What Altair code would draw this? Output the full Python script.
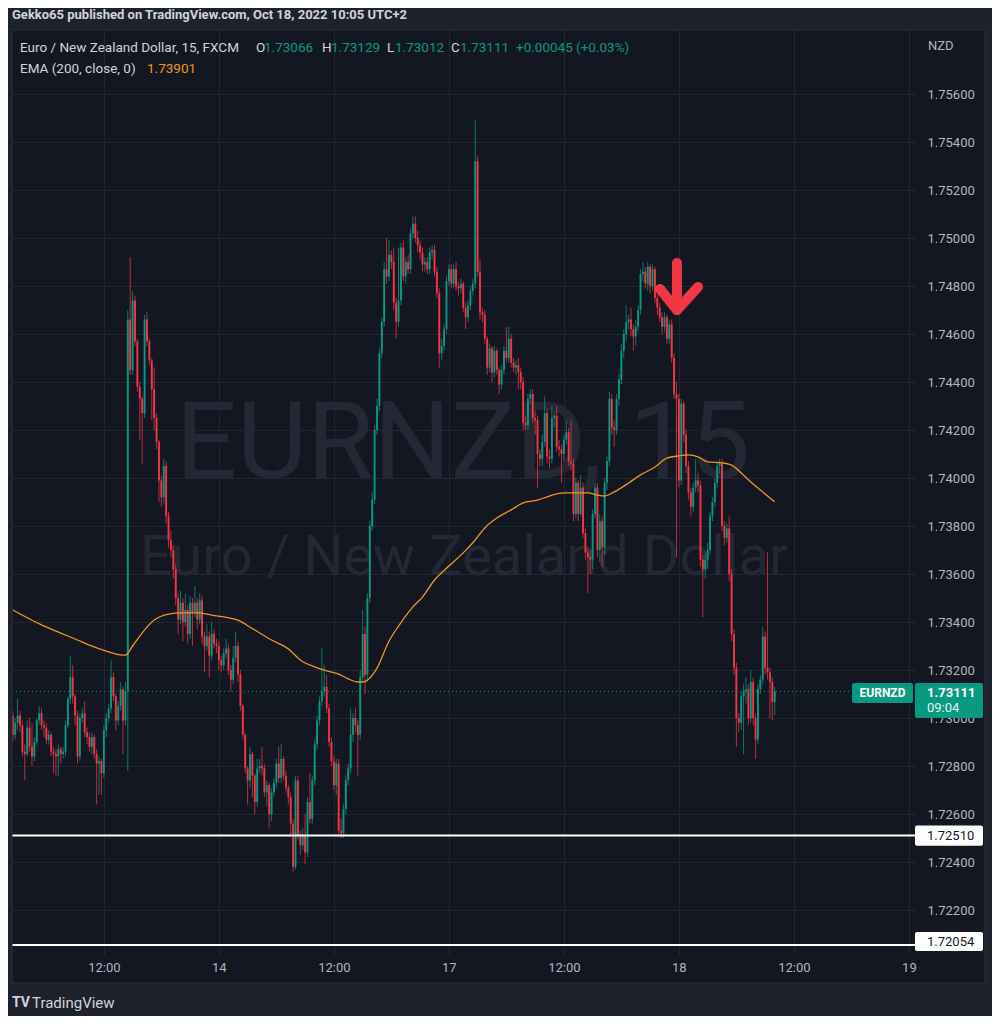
import altair as alt
import pandas as pd

# ---------------- values ----------------
first_open = 1.7301

close = [
    1.7293, 1.7298, 1.7301, 1.7297, 1.7286, 1.7285, 1.7296, 1.7288, 1.7284, 1.7290,
    1.7299, 1.7302, 1.7297, 1.7296, 1.7291, 1.7293, 1.7286, 1.7285, 1.7284, 1.7287,
    1.7285, 1.7286, 1.7297, 1.7308, 1.7317, 1.7309, 1.7301, 1.7284, 1.7300, 1.7302,
    1.7294, 1.7292, 1.7288, 1.7292, 1.7285, 1.7281, 1.7282, 1.7277, 1.7295, 1.7300,
    1.7304, 1.7317, 1.7309, 1.7299, 1.7305, 1.7312, 1.7299, 1.7311, 1.7466, 1.7445,
    1.7474, 1.7457, 1.7438, 1.7433, 1.7427, 1.7466, 1.7457, 1.7449, 1.7437, 1.7425,
    1.7415, 1.7399, 1.7392, 1.7405, 1.7384, 1.7374, 1.7370, 1.7362, 1.7350, 1.7341,
    1.7348, 1.7340, 1.7345, 1.7335, 1.7348, 1.7344, 1.7348, 1.7341, 1.7349, 1.7334,
    1.7330, 1.7334, 1.7326, 1.7335, 1.7331, 1.7330, 1.7324, 1.7322, 1.7327, 1.7329,
    1.7320, 1.7316, 1.7325, 1.7330, 1.7318, 1.7305, 1.7293, 1.7279, 1.7274, 1.7285,
    1.7276, 1.7265, 1.7279, 1.7280, 1.7279, 1.7269, 1.7272, 1.7260, 1.7269, 1.7273,
    1.7281, 1.7275, 1.7283, 1.7276, 1.7271, 1.7267, 1.7256, 1.7238, 1.7274, 1.7251,
    1.7247, 1.7251, 1.7244, 1.7265, 1.7258, 1.7274, 1.7289, 1.7299, 1.7307, 1.7311,
    1.7313, 1.7304, 1.7290, 1.7282, 1.7272, 1.7281, 1.7253, 1.7252, 1.7262, 1.7274,
    1.7279, 1.7293, 1.7300, 1.7297, 1.7293, 1.7317, 1.7335, 1.7318, 1.7350, 1.7380,
    1.7391, 1.7420, 1.7430, 1.7452, 1.7465, 1.7487, 1.7484, 1.7493, 1.7490, 1.7473,
    1.7465, 1.7474, 1.7496, 1.7484, 1.7490, 1.7487, 1.7502, 1.7506, 1.7500, 1.7497,
    1.7494, 1.7489, 1.7490, 1.7487, 1.7494, 1.7495, 1.7486, 1.7477, 1.7452, 1.7455,
    1.7462, 1.7482, 1.7487, 1.7481, 1.7487, 1.7480, 1.7479, 1.7481, 1.7471, 1.7467,
    1.7472, 1.7478, 1.7481, 1.7532, 1.7486, 1.7469, 1.7468, 1.7458, 1.7446, 1.7454,
    1.7444, 1.7453, 1.7445, 1.7439, 1.7445, 1.7453, 1.7450, 1.7458, 1.7448, 1.7446,
    1.7447, 1.7444, 1.7440, 1.7423, 1.7422, 1.7433, 1.7435, 1.7425, 1.7424, 1.7410,
    1.7408, 1.7415, 1.7427, 1.7409, 1.7408, 1.7425, 1.7426, 1.7413, 1.7412, 1.7410,
    1.7416, 1.7419, 1.7407, 1.7406, 1.7385, 1.7398, 1.7385, 1.7396, 1.7377, 1.7369,
    1.7367, 1.7366, 1.7385, 1.7396, 1.7370, 1.7382, 1.7371, 1.7398, 1.7407, 1.7433,
    1.7421, 1.7420, 1.7433, 1.7441, 1.7453, 1.7460, 1.7465, 1.7466, 1.7462, 1.7459,
    1.7463, 1.7470, 1.7485, 1.7486, 1.7481, 1.7488, 1.7480, 1.7487, 1.7475, 1.7471,
    1.7467, 1.7463, 1.7467, 1.7458, 1.7464, 1.7450, 1.7435, 1.7433, 1.7399, 1.7431,
    1.7418, 1.7405, 1.7394, 1.7388, 1.7396, 1.7399, 1.7397, 1.7366, 1.7362, 1.7366,
    1.7370, 1.7384, 1.7390, 1.7398, 1.7405, 1.7406, 1.7380, 1.7375, 1.7379, 1.7360,
    1.7335, 1.7321, 1.7300, 1.7298, 1.7309, 1.7311, 1.7312, 1.7300, 1.7315, 1.7300,
    1.7291, 1.7312, 1.7316, 1.7334, 1.7321, 1.7319, 1.7315, 1.73066, 1.73111,
]

high = [
    1.7303, 1.7300, 1.7308, 1.7303, 1.7299, 1.7289, 1.7299, 1.7300, 1.7298, 1.7292,
    1.7300, 1.7305, 1.7304, 1.7299, 1.7298, 1.7295, 1.7294, 1.7288, 1.7287, 1.7289,
    1.7288, 1.7288, 1.7299, 1.7309, 1.7326, 1.7322, 1.7310, 1.7303, 1.7302, 1.7304,
    1.7307, 1.7296, 1.7294, 1.7294, 1.7293, 1.7287, 1.7284, 1.7283, 1.7297, 1.7302,
    1.7306, 1.7324, 1.7319, 1.7310, 1.7307, 1.7315, 1.7313, 1.7315, 1.7470, 1.7492,
    1.7478, 1.7476, 1.7458, 1.7440, 1.7434, 1.7468, 1.7469, 1.7458, 1.7450, 1.7446,
    1.7427, 1.7416, 1.7401, 1.7408, 1.7407, 1.7386, 1.7378, 1.7372, 1.7364, 1.7352,
    1.7353, 1.7350, 1.7352, 1.7347, 1.7351, 1.7350, 1.7355, 1.7350, 1.7352, 1.7351,
    1.7336, 1.7339, 1.7336, 1.7340, 1.7337, 1.7333, 1.7332, 1.7326, 1.7329, 1.7333,
    1.7331, 1.7322, 1.7330, 1.7336, 1.7332, 1.7320, 1.7306, 1.7294, 1.7280, 1.7288,
    1.7286, 1.7277, 1.7283, 1.7283, 1.7288, 1.7281, 1.7274, 1.7273, 1.7271, 1.7275,
    1.7283, 1.7288, 1.7289, 1.7284, 1.7278, 1.7272, 1.7269, 1.7258, 1.7276, 1.7276,
    1.7253, 1.7254, 1.7260, 1.7267, 1.7277, 1.7276, 1.7291, 1.7301, 1.7309, 1.7329,
    1.7322, 1.7318, 1.7306, 1.7292, 1.7284, 1.7283, 1.7283, 1.7258, 1.7264, 1.7276,
    1.7281, 1.7304, 1.7302, 1.7304, 1.7299, 1.7320, 1.7345, 1.7338, 1.7352, 1.7382,
    1.7394, 1.7422, 1.7433, 1.7454, 1.7467, 1.7490, 1.7500, 1.7499, 1.7495, 1.7496,
    1.7475, 1.7496, 1.7498, 1.7499, 1.7492, 1.7493, 1.7504, 1.7509, 1.7509, 1.7503,
    1.7499, 1.7496, 1.7492, 1.7492, 1.7496, 1.7497, 1.7497, 1.7488, 1.7479, 1.7458,
    1.7464, 1.7484, 1.7489, 1.7489, 1.7489, 1.7490, 1.7482, 1.7483, 1.7482, 1.7473,
    1.7474, 1.7480, 1.7483, 1.7549, 1.7534, 1.7491, 1.7471, 1.7470, 1.7459, 1.7456,
    1.7455, 1.7455, 1.7454, 1.7446, 1.7447, 1.7455, 1.7463, 1.7463, 1.7460, 1.7450,
    1.7449, 1.7450, 1.7446, 1.7442, 1.7426, 1.7435, 1.7437, 1.7437, 1.7428, 1.7426,
    1.7412, 1.7418, 1.7434, 1.7429, 1.7412, 1.7430, 1.7428, 1.7430, 1.7416, 1.7414,
    1.7418, 1.7424, 1.7421, 1.7424, 1.7408, 1.7400, 1.7399, 1.7401, 1.7398, 1.7379,
    1.7371, 1.7370, 1.7387, 1.7398, 1.7398, 1.7385, 1.7384, 1.7400, 1.7409, 1.7436,
    1.7435, 1.7424, 1.7435, 1.7443, 1.7456, 1.7462, 1.7472, 1.7468, 1.7471, 1.7464,
    1.7466, 1.7472, 1.7487, 1.7490, 1.7488, 1.7490, 1.7489, 1.7489, 1.7488, 1.7477,
    1.7473, 1.7469, 1.7469, 1.7468, 1.7466, 1.7466, 1.7452, 1.7440, 1.7435, 1.7433,
    1.7432, 1.7420, 1.7407, 1.7396, 1.7398, 1.7408, 1.7402, 1.7399, 1.7368, 1.7369,
    1.7373, 1.7386, 1.7392, 1.7400, 1.7407, 1.7408, 1.7408, 1.7382, 1.7381, 1.7384,
    1.7362, 1.7337, 1.7323, 1.7302, 1.7311, 1.7314, 1.7317, 1.7314, 1.7320, 1.7317,
    1.7302, 1.7314, 1.7318, 1.7338, 1.7336, 1.7369, 1.7321, 1.7317, 1.73129,
]

low = [
    1.7290, 1.7291, 1.7295, 1.7294, 1.7284, 1.7274, 1.7284, 1.7286, 1.7280, 1.7282,
    1.7289, 1.7297, 1.7295, 1.7292, 1.7289, 1.7289, 1.7284, 1.7277, 1.7276, 1.7276,
    1.7281, 1.7283, 1.7284, 1.7296, 1.7306, 1.7306, 1.7297, 1.7281, 1.7282, 1.7298,
    1.7292, 1.7289, 1.7286, 1.7285, 1.7283, 1.7264, 1.7268, 1.7268, 1.7275, 1.7292,
    1.7298, 1.7302, 1.7307, 1.7295, 1.7297, 1.7303, 1.7285, 1.7297, 1.7278, 1.7443,
    1.7443, 1.7455, 1.7436, 1.7416, 1.7406, 1.7425, 1.7455, 1.7447, 1.7424, 1.7420,
    1.7412, 1.7390, 1.7388, 1.7389, 1.7381, 1.7371, 1.7367, 1.7358, 1.7347, 1.7335,
    1.7339, 1.7332, 1.7338, 1.7331, 1.7333, 1.7330, 1.7342, 1.7337, 1.7339, 1.7331,
    1.7319, 1.7328, 1.7317, 1.7324, 1.7329, 1.7327, 1.7320, 1.7319, 1.7320, 1.7325,
    1.7318, 1.7311, 1.7314, 1.7323, 1.7315, 1.7303, 1.7291, 1.7277, 1.7264, 1.7271,
    1.7267, 1.7260, 1.7263, 1.7277, 1.7276, 1.7267, 1.7263, 1.7254, 1.7257, 1.7267,
    1.7271, 1.7273, 1.7273, 1.7274, 1.7269, 1.7264, 1.7251, 1.7236, 1.7237, 1.7249,
    1.7243, 1.7245, 1.7239, 1.7242, 1.7256, 1.7256, 1.7272, 1.7287, 1.7297, 1.7305,
    1.7309, 1.7302, 1.7288, 1.7280, 1.7270, 1.7268, 1.7251, 1.7250, 1.7250, 1.7260,
    1.7272, 1.7277, 1.7290, 1.7294, 1.7276, 1.7291, 1.7315, 1.7310, 1.7315, 1.7348,
    1.7378, 1.7389, 1.7418, 1.7428, 1.7450, 1.7463, 1.7481, 1.7482, 1.7487, 1.7470,
    1.7458, 1.7463, 1.7472, 1.7482, 1.7481, 1.7485, 1.7485, 1.7500, 1.7498, 1.7494,
    1.7491, 1.7486, 1.7486, 1.7485, 1.7485, 1.7491, 1.7484, 1.7475, 1.7446, 1.7449,
    1.7453, 1.7460, 1.7480, 1.7479, 1.7479, 1.7478, 1.7476, 1.7477, 1.7469, 1.7462,
    1.7465, 1.7470, 1.7476, 1.7479, 1.7484, 1.7466, 1.7465, 1.7456, 1.7443, 1.7444,
    1.7440, 1.7442, 1.7443, 1.7435, 1.7437, 1.7443, 1.7448, 1.7448, 1.7446, 1.7444,
    1.7443, 1.7437, 1.7437, 1.7420, 1.7420, 1.7420, 1.7431, 1.7423, 1.7418, 1.7396,
    1.7405, 1.7405, 1.7413, 1.7406, 1.7404, 1.7406, 1.7421, 1.7411, 1.7409, 1.7398,
    1.7407, 1.7414, 1.7405, 1.7403, 1.7382, 1.7383, 1.7382, 1.7384, 1.7375, 1.7366,
    1.7352, 1.7360, 1.7362, 1.7383, 1.7367, 1.7365, 1.7363, 1.7368, 1.7395, 1.7405,
    1.7418, 1.7413, 1.7418, 1.7430, 1.7439, 1.7450, 1.7457, 1.7462, 1.7459, 1.7453,
    1.7455, 1.7461, 1.7468, 1.7482, 1.7479, 1.7478, 1.7477, 1.7478, 1.7473, 1.7468,
    1.7465, 1.7460, 1.7461, 1.7456, 1.7456, 1.7448, 1.7433, 1.7367, 1.7396, 1.7397,
    1.7415, 1.7402, 1.7391, 1.7384, 1.7386, 1.7394, 1.7394, 1.7363, 1.7342, 1.7358,
    1.7362, 1.7368, 1.7382, 1.7388, 1.7396, 1.7402, 1.7378, 1.7372, 1.7373, 1.7357,
    1.7332, 1.7318, 1.7288, 1.7294, 1.7295, 1.7285, 1.7306, 1.7297, 1.7298, 1.7297,
    1.7283, 1.7289, 1.7310, 1.7314, 1.7318, 1.7316, 1.7300, 1.7299, 1.73012,
]

# EMA(200) line (bar index, price)
ema_bar = [0, 12, 20, 27, 32, 39, 45, 47, 50, 55, 59, 65, 70, 77, 83, 88, 94, 99,
           108, 115, 120, 126, 131, 136, 140, 144, 146, 149, 152, 157, 161, 167,
           171, 176, 182, 188, 192, 197, 202, 208, 213, 219, 224, 230, 236, 240,
           244, 247, 251, 257, 262, 268, 273, 278, 282, 286, 290, 296, 300, 304,
           308, 312, 318]
ema_val = [1.73450, 1.73388, 1.73354, 1.73325, 1.73304, 1.73279, 1.73263, 1.73262,
           1.73300, 1.73367, 1.73408, 1.73433, 1.73438, 1.73438, 1.73429, 1.73421,
           1.73408, 1.73379, 1.73325, 1.73288, 1.73242, 1.73213, 1.73196, 1.73183,
           1.73163, 1.73150, 1.73150, 1.73167, 1.73208, 1.73320, 1.73383, 1.73463,
           1.73504, 1.73575, 1.73633, 1.73688, 1.73730, 1.73792, 1.73833, 1.73867,
           1.73896, 1.73908, 1.73925, 1.73938, 1.73938, 1.73938, 1.73929, 1.73925,
           1.73942, 1.73979, 1.74013, 1.74046, 1.74083, 1.74092, 1.74096, 1.74088,
           1.74067, 1.74063, 1.74054, 1.74021, 1.73983, 1.73950, 1.73901]

# horizontal levels drawn on the chart and last price
level_prices = [1.72510, 1.72054]
level_labels = ["1.72510", "1.72054"]
last_price = 1.73111

# axis ticks
time_tick_bars = [38, 86, 134, 182, 230, 278, 326, 374]
time_tick_labels = ["12:00", "14", "12:00", "17", "12:00", "18", "12:00", "19"]
price_ticks = [1.722, 1.724, 1.726, 1.728, 1.730, 1.732, 1.734, 1.736, 1.738,
               1.740, 1.742, 1.744, 1.746, 1.748, 1.750, 1.752, 1.754, 1.756]

# red arrow annotation (bar index, price)
arrow_part = ["head", "head", "head", "shaft", "shaft"]
arrow_seq = [0, 1, 2, 0, 1]
arrow_bar = [270.1, 277.2, 286.0, 277.2, 277.2]
arrow_price = [1.74788, 1.74700, 1.74796, 1.74896, 1.74700]

# ---------------- styling ----------------
BG = "#131722"
FRAME = "#1e222d"
GRID = "#222632"
TXT = "#d1d4dc"
AXT = "#b2b5be"
UP = "#089981"
DN = "#f23645"
EMA_C = "#f0961c"
WM = "#242834"
FONT = "Roboto"
W, H = 903, 925
LEG = 13.5

opens = [first_open] + close[:-1]
candles = pd.DataFrame({"bar": list(range(len(close))), "open": opens,
                        "close": close, "high": high, "low": low})
ema_df = pd.DataFrame({"bar": ema_bar, "ema": ema_val})
arrow_df = pd.DataFrame({"part": arrow_part, "seq": arrow_seq,
                         "bar": arrow_bar, "price": arrow_price})
one = pd.DataFrame({"k": [0]})

label_expr = " : ".join(
    f"datum.value == {b} ? '{l}'" for b, l in zip(time_tick_bars, time_tick_labels)
) + " : ''"

xscale = alt.Scale(domain=[-0.334, 376.55], nice=False, zero=False)
yscale = alt.Scale(domain=[1.720125, 1.758667], nice=False, zero=False)
xaxis = alt.Axis(values=time_tick_bars, labelExpr=label_expr, grid=True,
                 gridColor=GRID, gridWidth=1, domain=False, ticks=False,
                 tickSize=0, labelColor=AXT, labelFont=FONT, labelFontSize=13,
                 labelPadding=6, title=None, labelAngle=0, labelFlush=False,
                 labelOverlap=False)
yaxis = alt.Axis(orient="right", values=price_ticks, format=".5f", grid=True,
                 gridColor=GRID, gridWidth=1, domain=False, ticks=False,
                 tickSize=0, labelColor=AXT, labelFont=FONT, labelFontSize=13,
                 labelPadding=12, title=None, labelFlush=False,
                 labelOverlap=False, labelAlign="left")


def X(field):
    return alt.X(field, type="quantitative", scale=xscale, axis=xaxis)


def Y(field):
    return alt.Y(field, type="quantitative", scale=yscale, axis=yaxis)


def txt(s, x, y, color, size=13, weight="normal", align="left",
        baseline="middle"):
    return alt.Chart(one).mark_text(
        text=s, align=align, baseline=baseline, font=FONT, fontSize=size,
        fontWeight=weight, color=color
    ).encode(x=alt.value(x), y=y if not isinstance(y, (int, float)) else alt.value(y))


def box(x1, x2, p_top, p_bot, color):
    return alt.Chart(one).mark_rect(color=color, cornerRadius=2).encode(
        x=alt.value(x1), x2=alt.value(x2),
        y=alt.datum(p_top), y2=alt.datum(p_bot))


cond_color = alt.condition("datum.close >= datum.open", alt.value(UP), alt.value(DN))

layers = []

# watermark
layers.append(txt("EURNZD, 15", 451, 448, WM, size=108, align="center",
                  baseline="alphabetic"))
layers.append(txt("Euro / New Zealand Dollar", 452, 545, WM, size=56,
                  align="center", baseline="alphabetic"))

# wicks
layers.append(alt.Chart(candles).mark_rule(strokeWidth=1, opacity=0.75).encode(
    x=X("bar"), y=Y("low"), y2="high", color=cond_color))
# bodies
layers.append(alt.Chart(candles).mark_rule(strokeWidth=1.9).encode(
    x=X("bar"), y=Y("open"), y2="close", color=cond_color))

# EMA
layers.append(alt.Chart(ema_df).mark_line(color=EMA_C, strokeWidth=1.3,
                                          interpolate="monotone").encode(
    x=X("bar"), y=Y("ema")))

# last price dotted line
layers.append(alt.Chart(one).mark_rule(color=UP, strokeWidth=1,
                                       strokeDash=[1, 3]).encode(
    x=alt.value(0), x2=alt.value(840), y=alt.datum(last_price)))

# white horizontal levels
for p in level_prices:
    layers.append(alt.Chart(one).mark_rule(color="#ffffff", strokeWidth=2).encode(
        x=alt.value(0), x2=alt.value(W), y=alt.datum(p)))

# arrow
layers.append(alt.Chart(arrow_df).mark_line(
    color=DN, strokeWidth=10, strokeCap="round", strokeJoin="round").encode(
    x=X("bar"), y=Y("price"), detail="part:N", order="seq:Q"))

# level labels on the price scale
for p, s in zip(level_prices, level_labels):
    top, bot = p + 0.00042, p - 0.00042
    if p < 1.722:
        top, bot = p + 0.00054, p - 0.00025
    layers.append(box(903, 971, top, bot, "#ffffff"))
    layers.append(txt(s, 915, alt.datum((top + bot) / 2), "#131722", size=13))

# last price label
layers.append(box(903, 971, 1.73146, 1.73000, UP))
layers.append(txt("1.73111", 915, alt.datum(1.73104), "#ffffff", size=13,
                  weight="bold"))
layers.append(txt("09:04", 915, alt.datum(1.73042), "#e6f4f1", size=13))
layers.append(box(840, 901, 1.73146, 1.73063, UP))
layers.append(txt("EURNZD", 870.5, alt.datum(1.73104), "#ffffff", size=12,
                  weight="bold", align="center"))

# legend
layers.append(txt("Euro / New Zealand Dollar, 15, FXCM", 8, 18, TXT, size=LEG))
legend_parts = [("O", 244, TXT), ("1.73066", 252, UP), ("H", 310, TXT),
                ("1.73129", 319, UP), ("L", 375, TXT), ("1.73012", 383, UP),
                ("C", 439, TXT), ("1.73111", 448, UP),
                ("+0.00045 (+0.03%)", 504, UP)]
for s, x, c in legend_parts:
    layers.append(txt(s, x, 18, c, size=LEG))
layers.append(txt("EMA (200, close, 0)", 8, 39, TXT, size=LEG))
layers.append(txt("1.73901", 135, 39, EMA_C, size=LEG))
layers.append(txt("NZD", 916, 16, AXT))

# frame (outer lighter border)
for (x1, x2, y1, y2) in [(-4, 980, -22, 0), (-4, 980, 953, 986),
                         (-4, 0, -22, 986), (973, 980, -22, 986)]:
    layers.append(alt.Chart(one).mark_rect(color=FRAME).encode(
        x=alt.value(x1), x2=alt.value(x2), y=alt.value(y1), y2=alt.value(y2)))
layers.append(alt.Chart(one).mark_rect(fill=None, stroke="#2a2e39",
                                       strokeWidth=1).encode(
    x=alt.value(0), x2=alt.value(973), y=alt.value(0), y2=alt.value(953)))

# header and footer
layers.append(txt("Gekko65 published on TradingView.com, Oct 18, 2022 10:05 UTC+2",
                  0, -11, TXT, size=13, weight="bold", baseline="alphabetic"))
layers.append(txt("TV", 0, 973, TXT, size=14, weight="bold"))
layers.append(txt("TradingView", 20, 973, TXT, size=15))

chart = alt.layer(*layers).properties(
    width=W, height=H, background=BG,
    padding={"left": 4, "top": 22, "right": 77, "bottom": 61},
    autosize=alt.AutoSizeParams(type="none"),
).configure_view(stroke=None)

chart.save("out.html", embed_options={"renderer": "svg", "actions": False})
